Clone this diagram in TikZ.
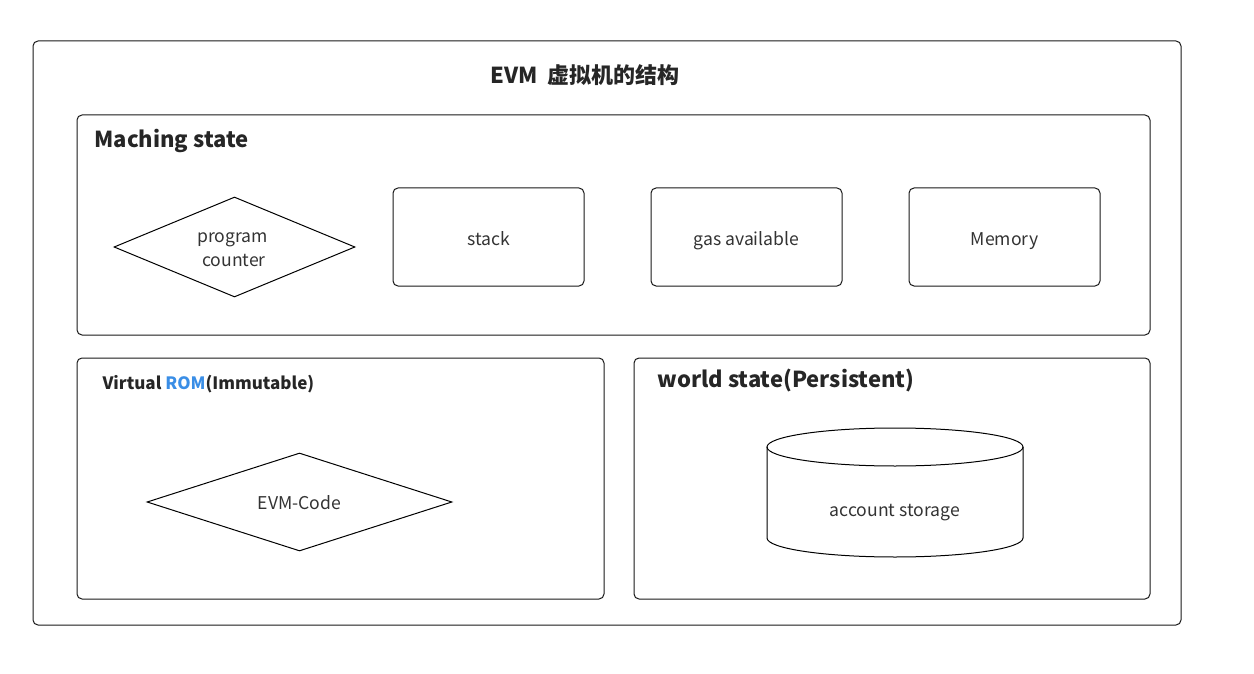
\documentclass[tikz,border=0pt]{standalone}
\usepackage{fontspec}
\setmainfont{Noto Sans CJK SC}
\usetikzlibrary{shapes.geometric}
\begin{document}
\begin{tikzpicture}[x=1pt,y=-1pt,
  frame/.style={draw=black!90,line width=1pt,rounded corners=5pt},
  itembox/.style={draw=black!90,line width=1pt,rounded corners=5pt,minimum width=191pt,minimum height=98pt},
  dia/.style={draw=black,line width=1pt,diamond,aspect=2.4,inner sep=0pt},
  lbl/.style={anchor=base,inner sep=0pt,font=\fontsize{17.6}{24.5}\selectfont,text=black!80},
  heading/.style={anchor=west,font=\bfseries\fontsize{22}{24}\selectfont,text=black!85}]
\useasboundingbox (0,0) rectangle (1254,674);
% outer frame
\draw[frame] (33,41) rectangle (1181,625);
\node[font=\bfseries\fontsize{22}{24}\selectfont,text=black!85] (title) at (585,75) {EVM\ \ 虚拟机的结构};
% machine state
\draw[frame] (77,115) rectangle (1150,335);
\node[heading] (mstate) at (91,141) {Maching state};
\node[dia,minimum width=241pt,minimum height=100pt] (pc) at (234.5,247) {};
\node[lbl] (pctext1) at (232.5,242) {program};
\node[lbl] (pctext2) at (234,266.5) {counter};
\node[itembox] (stack) at (488.5,237) {};
\node[lbl] (stacktext) at (488.5,245) {stack};
\node[itembox] (gas) at (746.5,237) {};
\node[lbl] (gastext) at (746.5,245) {gas available};
\node[itembox] (mem) at (1004.5,237) {};
\node[lbl] (memtext) at (1004.5,245) {Memory};
% virtual ROM
\draw[frame] (77,358) rectangle (604,599);
\node[anchor=west,font=\bfseries\fontsize{17}{20}\selectfont,text=black!85] (vrom) at (99,384) {Virtual \textcolor[HTML]{3A8EE6}{ROM}(Immutable)};
\node[dia,minimum width=305pt,minimum height=98pt] (code) at (299.5,502) {};
\node[lbl] (codetext) at (299.5,509.5) {EVM-Code};
% world state
\draw[frame] (634,358) rectangle (1150,599);
\node[heading] (wstate) at (654,381) {world state(Persistent)};
\coordinate (cyltop) at (895,447);
\draw[line width=1pt,black] (cyltop) ellipse [x radius=128, y radius=19];
\draw[line width=1pt,black] (767,447) -- (767,538) arc[start angle=180,end angle=0,x radius=128,y radius=19] -- (1023,447);
\node[lbl] (acct) at (895,516) {account storage};
\end{tikzpicture}
\end{document}
